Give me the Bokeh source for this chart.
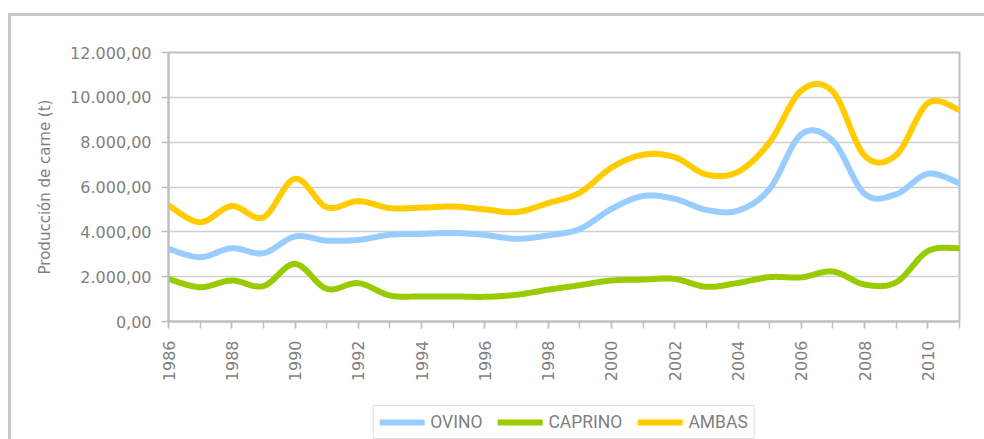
import numpy as np
from bokeh.plotting import figure
from bokeh.layouts import column
from bokeh.models import FixedTicker, Legend, LegendItem, Range1d
from bokeh.embed import file_html
from bokeh.resources import INLINE

# ---- data ----
years = list(range(1986, 2012))
ovino = [3240, 2870, 3270, 3050, 3790, 3610, 3640, 3870, 3910, 3950, 3860, 3690, 3840,
         4130, 5020, 5600, 5470, 4980, 4950, 5920, 8350, 8050, 5700, 5680, 6590, 6170]
caprino = [1900, 1530, 1830, 1580, 2570, 1460, 1710, 1160, 1120, 1120, 1100, 1190, 1420,
           1620, 1830, 1870, 1900, 1550, 1720, 1980, 1970, 2230, 1650, 1750, 3140, 3270]
ambas = [5180, 4430, 5150, 4650, 6370, 5100, 5370, 5060, 5080, 5130, 5000, 4880, 5280,
         5750, 6860, 7440, 7330, 6560, 6680, 8000, 10300, 10250, 7400, 7430, 9740, 9440]
series_names = ["OVINO", "CAPRINO", "AMBAS"]
series_colors = ["#99CCFF", "#99CC00", "#FFCC00"]
y_ticks = [0, 2000, 4000, 6000, 8000, 10000, 12000]
y_tick_labels = ["0,00", "2.000,00", "4.000,00", "6.000,00", "8.000,00", "10.000,00", "12.000,00"]
x_label_years = list(range(1986, 2011, 2))
y_title = "Producción de carne (t)"

GRAY_TXT = "#7F7F7F"
GRAY_LINE = "#BFBFBF"


def smooth(xs, ys, steps=24):
    """Catmull-Rom style smoothing (like a spreadsheet 'smoothed line')."""
    xs = np.asarray(xs, float)
    ys = np.asarray(ys, float)
    px = np.concatenate([[xs[0]], xs, [xs[-1]]])
    py = np.concatenate([[ys[0]], ys, [ys[-1]]])
    t = np.linspace(0, 1, steps, endpoint=False)
    ox, oy = [], []
    for i in range(1, len(px) - 2):
        for arr, out in ((px, ox), (py, oy)):
            p0, p1, p2, p3 = arr[i - 1], arr[i], arr[i + 1], arr[i + 2]
            c1 = p1 + (p2 - p0) / 6.0
            c2 = p2 - (p3 - p1) / 6.0
            b = ((1 - t) ** 3 * p1 + 3 * (1 - t) ** 2 * t * c1
                 + 3 * (1 - t) * t ** 2 * c2 + t ** 3 * p2)
            out.extend(b.tolist())
    ox.append(float(xs[-1]))
    oy.append(float(ys[-1]))
    return ox, oy


series_values = [ovino, caprino, ambas]

# ---------------- main chart ----------------
p = figure(width=973, height=389,
           x_range=Range1d(years[0], years[-1]), y_range=Range1d(0, 12000),
           output_backend="svg", toolbar_location=None,
           min_border_left=157, min_border_right=25,
           min_border_top=36, min_border_bottom=84)
p.background_fill_color = "white"
p.border_fill_color = "white"
p.outline_line_color = GRAY_LINE
p.outline_line_width = 2

for name, vals, col in zip(series_names, series_values, series_colors):
    sx, sy = smooth(years, vals)
    p.line(sx, sy, line_color=col, line_width=6, line_cap="round", line_join="round")

p.yaxis.ticker = FixedTicker(ticks=y_ticks)
p.yaxis.major_label_overrides = {t: l for t, l in zip(y_ticks, y_tick_labels)}
p.yaxis.axis_label = y_title
p.yaxis.axis_label_text_font = "DejaVu Sans"
p.yaxis.axis_label_text_font_size = "15px"
p.yaxis.axis_label_text_font_style = "normal"
p.yaxis.axis_label_text_color = GRAY_TXT
p.yaxis.axis_label_standoff = 13
p.yaxis.major_label_standoff = 10

p.xaxis.ticker = FixedTicker(ticks=x_label_years, minor_ticks=years)
p.xaxis.major_label_orientation = np.pi / 2
p.xaxis.major_label_standoff = 12

for ax in (p.xaxis, p.yaxis):
    ax.axis_line_color = GRAY_LINE
    ax.axis_line_width = 2
    ax.major_tick_line_color = GRAY_LINE
    ax.minor_tick_line_color = GRAY_LINE
    ax.major_tick_line_width = 1.5
    ax.minor_tick_line_width = 1.5
    ax.major_tick_in = 0
    ax.major_tick_out = 7
    ax.major_label_text_font = "DejaVu Sans"
    ax.major_label_text_font_size = "16px"
    ax.major_label_text_color = GRAY_TXT
p.xaxis.minor_tick_in = 0
p.xaxis.minor_tick_out = 7
p.yaxis.minor_tick_line_color = None

p.xgrid.visible = False
p.ygrid.grid_line_color = "#D0D0D0"
p.ygrid.grid_line_width = 1.5

# ---------------- legend strip ----------------
# The strip's ranges keep the proxy lines out of view; only the legend shows.
lg = figure(width=973, height=34, x_range=Range1d(0, 1), y_range=Range1d(0, 1),
            output_backend="svg", toolbar_location=None,
            x_axis_type=None, y_axis_type=None,
            min_border_left=157, min_border_right=25,
            min_border_top=0, min_border_bottom=0)
lg.outline_line_color = None
lg.grid.visible = False
lg.background_fill_color = "white"
lg.border_fill_color = "white"

proxies = []
for name, vals, col in zip(series_names, series_values, series_colors):
    r = lg.line(years, vals, line_color=col, line_width=6, line_cap="round", line_join="round")
    proxies.append(r)

legend = Legend(items=[LegendItem(label=n, renderers=[r]) for n, r in zip(series_names, proxies)],
                location="center", orientation="horizontal")
legend.label_text_font = "Roboto"
legend.label_text_font_size = "17.5px"
legend.label_text_color = GRAY_TXT
legend.label_height = 20
legend.glyph_width = 45
legend.glyph_height = 20
legend.label_standoff = 6
legend.spacing = 15
legend.padding = 6
legend.margin = 0
legend.border_line_color = GRAY_LINE
legend.border_line_width = 1.5
legend.background_fill_color = "white"
legend.background_fill_alpha = 1.0
lg.add_layout(legend, "center")

layout = column(p, lg, spacing=0)
layout.styles = {"margin-left": "8px", "margin-top": "13px",
                 "border-top": "3px solid #C8C8C8", "border-left": "3px solid #C8C8C8"}

open("out.html", "w").write(file_html(layout, INLINE))
